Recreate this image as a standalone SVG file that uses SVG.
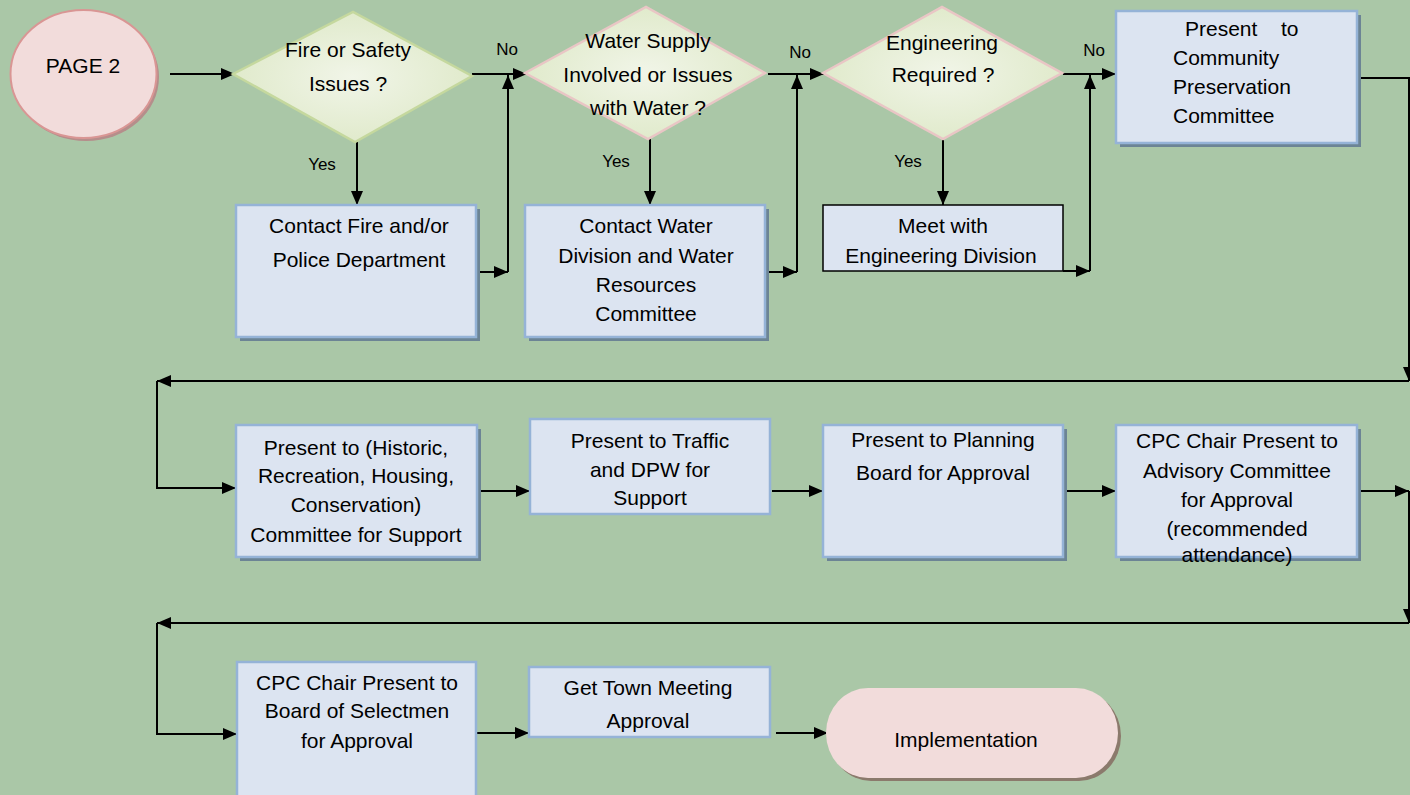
<svg xmlns="http://www.w3.org/2000/svg" width="1410" height="795" viewBox="0 0 1410 795">
<defs>
<radialGradient id="dg" cx="50%" cy="50%" r="60%">
<stop offset="0" stop-color="#F1F5E8"/>
<stop offset="1" stop-color="#DDE8C6"/>
</radialGradient>
<marker id="ah" viewBox="0 0 14 12" refX="14" refY="6" markerWidth="14" markerHeight="12" markerUnits="userSpaceOnUse" orient="auto">
<path d="M0,0 L14,6 L0,12 z" fill="#000"/>
</marker>
<style>
.t{font-family:"Liberation Sans",Arial,sans-serif;font-size:21px;fill:#000;text-anchor:middle}
.tl{font-family:"Liberation Sans",Arial,sans-serif;font-size:21px;fill:#000}
.lab{font-family:"Liberation Sans",Arial,sans-serif;font-size:17px;fill:#000;text-anchor:middle}
.box{fill:#DCE4F1;stroke:#95B3D7;stroke-width:2.5}
.sh{fill:#6C8495}
.dia{fill:url(#dg);stroke-width:2.5}
.ca{fill:none;stroke:#000;stroke-width:2;marker-end:url(#ah)}
</style>
</defs>
<rect width="1410" height="795" fill="#AAC7A7"/>

<g id="connectors">
<path class="ca" d="M170 74 H235"/>
<path class="ca" d="M472 74 H527"/>
<path class="ca" d="M357 142 V205"/>
<path class="ca" d="M480 272 H508"/>
<path class="ca" d="M508 272 V75"/>
<path class="ca" d="M768 74 H824"/>
<path class="ca" d="M650 139 V205"/>
<path class="ca" d="M768 272 H797"/>
<path class="ca" d="M797 272 V75"/>
<path class="ca" d="M1063 74 H1116"/>
<path class="ca" d="M943 139 V205"/>
<path class="ca" d="M1063 271 H1090"/>
<path class="ca" d="M1090 271 V75"/>
<path class="ca" d="M1357 72 V78 H1409 V381"/>
<path class="ca" d="M1409 381 H157"/>
<path class="ca" d="M157 381 V488 H236"/>
<path class="ca" d="M477 491 H530"/>
<path class="ca" d="M772 491 H823"/>
<path class="ca" d="M1063 491 H1116"/>
<path class="ca" d="M1357 491 H1409"/>
<path class="ca" d="M1409 491 V623"/>
<path class="ca" d="M1409 623 H157"/>
<path class="ca" d="M157 623 V734 H237"/>
<path class="ca" d="M476 733 H529"/>
<path class="ca" d="M776 733 H828"/>
</g>

<g id="labels">
<text class="lab" x="507" y="55">No</text>
<text class="lab" x="800" y="58">No</text>
<text class="lab" x="1094" y="56">No</text>
<text class="lab" x="322" y="170">Yes</text>
<text class="lab" x="616" y="167">Yes</text>
<text class="lab" x="908" y="167">Yes</text>
</g>

<g id="page2">
<ellipse cx="86" cy="77" rx="73" ry="64" fill="#B58E8B"/>
<ellipse cx="83.5" cy="74" rx="73" ry="64" fill="#F2DCDB" stroke="#D99694" stroke-width="2"/>
<text class="t" x="83" y="73">PAGE 2</text>
</g>

<g id="fire-safety">
<polygon class="dia" stroke="#C5D89E" points="233,74 353,12 472,76 355,142"/>
<text class="t" x="348" y="57">Fire or Safety</text>
<text class="t" x="348" y="91">Issues ?</text>
</g>

<g id="water-supply">
<polygon class="dia" stroke="#E9C6C5" points="525,73 646,7 765,73 648,139"/>
<text class="t" x="648" y="48">Water Supply</text>
<text class="t" x="648" y="82">Involved or Issues</text>
<text class="t" x="648" y="115">with Water ?</text>
</g>

<g id="engineering">
<polygon class="dia" stroke="#E9C6C5" points="823,73 942,7 1062,73 943,139"/>
<text class="t" x="942" y="50">Engineering</text>
<text class="t" x="943" y="82">Required ?</text>
</g>

<g id="contact-fire">
<rect class="sh" x="240" y="209" width="240" height="132"/>
<rect class="box" x="236" y="205" width="240" height="132"/>
<text class="t" x="359" y="233">Contact Fire and/or</text>
<text class="t" x="359" y="267">Police Department</text>
</g>

<g id="contact-water">
<rect class="sh" x="529" y="209" width="240" height="132"/>
<rect class="box" x="525" y="205" width="240" height="132"/>
<text class="t" x="646" y="233">Contact Water</text>
<text class="t" x="646" y="263">Division and Water</text>
<text class="t" x="646" y="292">Resources</text>
<text class="t" x="646" y="321">Committee</text>
</g>

<g id="meet-engineering">
<rect x="823" y="205" width="240" height="66" fill="#DCE4F1" stroke="#000" stroke-width="1.5"/>
<text class="t" x="943" y="233">Meet with</text>
<text class="t" x="941" y="263">Engineering Division</text>
</g>

<g id="present-cpc">
<rect class="sh" x="1120" y="15" width="241" height="132"/>
<rect class="box" x="1116" y="11" width="241" height="132"/>
<text class="tl" y="36"><tspan x="1185">Present</tspan><tspan x="1281">to</tspan></text>
<text class="tl" x="1173" y="65">Community</text>
<text class="tl" x="1173" y="94">Preservation</text>
<text class="tl" x="1173" y="123">Committee</text>
</g>

<g id="present-historic">
<rect class="sh" x="240" y="429" width="241" height="132"/>
<rect class="box" x="236" y="425" width="241" height="132"/>
<text class="t" x="356" y="455">Present to (Historic,</text>
<text class="t" x="356" y="483">Recreation, Housing,</text>
<text class="t" x="356" y="512">Conservation)</text>
<text class="t" x="356" y="542">Committee for Support</text>
</g>

<g id="present-traffic">
<rect class="box" x="530" y="419" width="240" height="95"/>
<text class="t" x="650" y="448">Present to Traffic</text>
<text class="t" x="650" y="477">and DPW for</text>
<text class="t" x="650" y="505">Support</text>
</g>

<g id="present-planning">
<rect class="sh" x="827" y="429" width="240" height="132"/>
<rect class="box" x="823" y="425" width="240" height="132"/>
<text class="t" x="943" y="447">Present to Planning</text>
<text class="t" x="943" y="480">Board for Approval</text>
</g>

<g id="cpc-advisory">
<rect class="sh" x="1120" y="429" width="241" height="132"/>
<rect class="box" x="1116" y="425" width="241" height="132"/>
<text class="t" x="1237" y="448">CPC Chair Present to</text>
<text class="t" x="1237" y="478">Advisory Committee</text>
<text class="t" x="1237" y="507">for Approval</text>
<text class="t" x="1237" y="536">(recommended</text>
<text class="t" x="1237" y="562">attendance)</text>
</g>

<g id="cpc-selectmen">
<rect class="box" x="237" y="662" width="239" height="140"/>
<text class="t" x="357" y="690">CPC Chair Present to</text>
<text class="t" x="357" y="718">Board of Selectmen</text>
<text class="t" x="357" y="748">for Approval</text>
</g>

<g id="town-meeting">
<rect class="box" x="529" y="667" width="241" height="70"/>
<text class="t" x="648" y="695">Get Town Meeting</text>
<text class="t" x="648" y="728">Approval</text>
</g>

<g id="implementation">
<rect x="829" y="691" width="292" height="90" rx="42" ry="45" fill="#8B7A6C"/>
<rect x="826" y="688" width="292" height="90" rx="42" ry="45" fill="#F2DCDB"/>
<text class="t" x="966" y="747">Implementation</text>
</g>
</svg>
